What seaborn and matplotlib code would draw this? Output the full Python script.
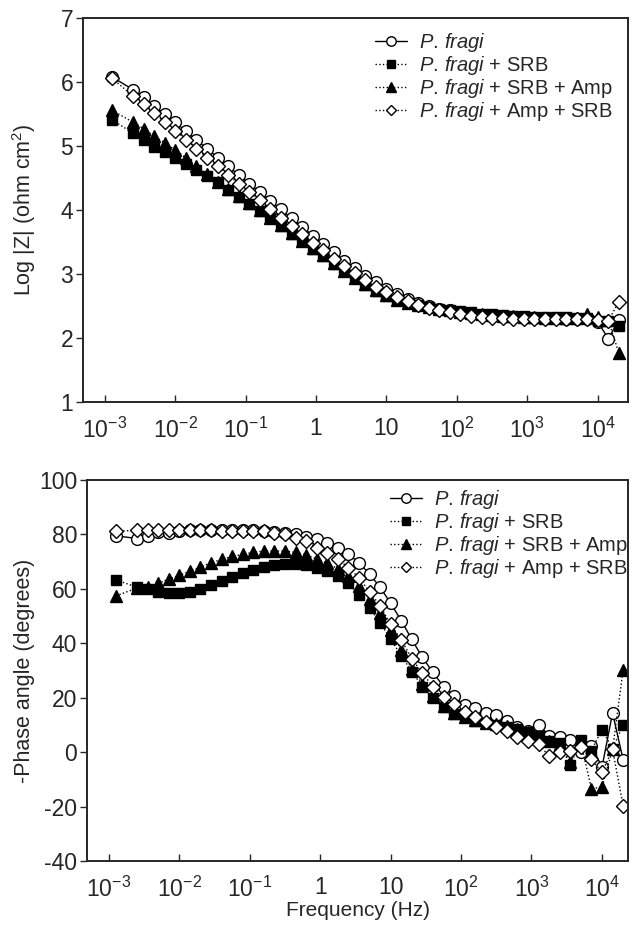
import numpy as np
import pandas as pd
import matplotlib
matplotlib.use("Agg")
import matplotlib.pyplot as plt
import seaborn as sns
from matplotlib.ticker import FixedLocator, LogLocator, NullFormatter

sns.set_style("ticks")
plt.rcParams['font.family'] = ['Liberation Sans', 'DejaVu Sans']
plt.rcParams['mathtext.fontset'] = 'custom'
plt.rcParams['mathtext.rm'] = 'Liberation Sans'
plt.rcParams['mathtext.it'] = 'Liberation Sans:italic'
plt.rcParams['axes.unicode_minus'] = False

# frequencies (Hz), low to high
freq = [0.00126, 0.00252, 0.00356, 0.00502, 0.0071, 0.0100, 0.0142, 0.0200,
        0.0283, 0.0399, 0.0564, 0.0796, 0.112, 0.159, 0.224, 0.317,
        0.448, 0.632, 0.893, 1.26, 1.78, 2.52, 3.56, 5.02,
        7.10, 10.0, 14.2, 20.0, 28.3, 39.9, 56.4, 79.6,
        112, 159, 224, 317, 448, 632, 893, 1260,
        1780, 2520, 3560, 5020, 7090, 10020, 14160, 20000]

# log |Z| (ohm cm2)
logz_pf = [6.08, 5.88, 5.77, 5.62, 5.50, 5.37, 5.23, 5.09,
           4.96, 4.82, 4.68, 4.55, 4.41, 4.28, 4.14, 4.01,
           3.87, 3.74, 3.60, 3.47, 3.34, 3.21, 3.09, 2.97,
           2.87, 2.77, 2.69, 2.61, 2.55, 2.50, 2.46, 2.43,
           2.40, 2.38, 2.36, 2.35, 2.34, 2.33, 2.32, 2.32,
           2.31, 2.31, 2.30, 2.30, 2.30, 2.25, 1.99, 2.28]
logz_srb = [5.41, 5.20, 5.09, 4.99, 4.91, 4.81, 4.72, 4.62,
            4.53, 4.43, 4.31, 4.21, 4.10, 3.99, 3.87, 3.75,
            3.63, 3.51, 3.39, 3.28, 3.16, 3.04, 2.93, 2.83,
            2.74, 2.66, 2.60, 2.55, 2.51, 2.48, 2.46, 2.44,
            2.42, 2.40, 2.38, 2.37, 2.36, 2.35, 2.34, 2.33,
            2.33, 2.33, 2.33, 2.32, 2.31, 2.26, 2.27, 2.19]
logz_srb_amp = [5.56, 5.37, 5.27, 5.15, 5.05, 4.94, 4.81, 4.68,
                4.56, 4.44, 4.33, 4.22, 4.11, 4.00, 3.88, 3.76,
                3.64, 3.52, 3.40, 3.29, 3.17, 3.05, 2.94, 2.84,
                2.75, 2.67, 2.60, 2.55, 2.51, 2.48, 2.45, 2.43,
                2.41, 2.39, 2.37, 2.36, 2.35, 2.34, 2.33, 2.33,
                2.32, 2.32, 2.32, 2.32, 2.38, 2.33, 2.28, 1.76]
logz_amp_srb = [6.06, 5.78, 5.66, 5.51, 5.37, 5.24, 5.10, 4.96,
                4.82, 4.69, 4.55, 4.41, 4.28, 4.15, 4.01, 3.88,
                3.75, 3.62, 3.49, 3.37, 3.24, 3.12, 3.01, 2.90,
                2.80, 2.72, 2.64, 2.58, 2.52, 2.47, 2.43, 2.40,
                2.37, 2.35, 2.33, 2.32, 2.31, 2.30, 2.30, 2.29,
                2.29, 2.29, 2.29, 2.29, 2.29, 2.28, 2.27, 2.57]

# -phase angle (degrees)
phase_pf = [79.5, 78.5, 79.3, 81.0, 80.6, 81.2, 81.5, 81.5,
            81.5, 81.5, 81.5, 81.5, 81.5, 81.2, 80.9, 80.5,
            80.1, 79.2, 78.2, 76.7, 75.0, 72.7, 69.6, 65.4,
            60.6, 54.7, 48.3, 41.4, 34.8, 29.3, 24.1, 20.5,
            17.3, 16.1, 14.3, 13.7, 11.5, 9.4, 7.9, 10.1,
            6.1, 5.7, 4.6, 0.0, 2.4, -5.5, 14.4, -2.8]
phase_srb = [63.3, 60.6, 60.0, 58.9, 58.6, 58.6, 58.9, 59.8,
             61.3, 62.8, 64.4, 66.0, 67.0, 68.2, 68.9, 69.2,
             69.1, 68.9, 67.8, 66.6, 64.7, 62.1, 57.8, 53.1,
             47.6, 41.5, 35.4, 29.6, 24.1, 19.8, 16.5, 14.0,
             12.8, 11.6, 10.6, 10.1, 9.4, 8.6, 7.3, 5.9,
             4.2, 3.2, -4.9, 4.5, 0.6, 8.3, 1.3, 10.0]
phase_srb_amp = [57.4, 60.3, 60.5, 62.0, 63.6, 65.0, 66.5, 68.0,
                 69.6, 70.8, 71.9, 72.7, 73.4, 73.9, 73.9, 73.9,
                 73.4, 72.5, 71.0, 69.4, 67.4, 64.7, 61.1, 56.4,
                 51.3, 45.0, 37.5, 30.5, 25.0, 20.5, 17.0, 14.5,
                 13.0, 11.8, 10.8, 10.2, 9.5, 8.6, 7.3, 5.8,
                 4.2, 3.0, -3.7, 3.5, -13.4, -12.8, 1.0, 30.3]
phase_amp_srb = [81.2, 81.5, 81.8, 81.6, 81.5, 81.5, 81.5, 81.5,
                 81.5, 81.4, 81.3, 81.3, 81.2, 81.2, 80.6, 80.0,
                 78.8, 77.6, 75.1, 73.3, 70.9, 67.8, 64.1, 58.9,
                 53.8, 47.0, 41.2, 34.4, 29.0, 24.1, 20.4, 17.7,
                 14.7, 12.8, 11.0, 9.2, 7.9, 5.5, 4.0, 3.0,
                 -1.5, 0.0, 0.5, 2.0, -2.6, -7.4, 1.0, -19.8]

labels = [r'$\mathit{P.\,fragi}$',
          r'$\mathit{P.\,fragi}$ + SRB',
          r'$\mathit{P.\,fragi}$ + SRB + Amp',
          r'$\mathit{P.\,fragi}$ + Amp + SRB']
logz_all = [logz_pf, logz_srb, logz_srb_amp, logz_amp_srb]
phase_all = [phase_pf, phase_srb, phase_srb_amp, phase_amp_srb]

markers = ['o', 's', '^', 'D']
faces = ['white', 'black', 'black', 'white']
sizes = [8.5, 7.3, 8.5, 7.0]
styles = ['-', ':', ':', ':']

fig = plt.figure(figsize=(6.32, 9.26), dpi=100)
ax1 = fig.add_axes([83/632, 1-402/926, 545/632, 384/926])
ax2 = fig.add_axes([87/632, 1-861/926, 541/632, 381/926])

for ax, data in [(ax1, logz_all), (ax2, phase_all)]:
    for i in range(4):
        sns.lineplot(x=freq, y=data[i], ax=ax, color='black',
                     marker=markers[i], markersize=sizes[i],
                     markerfacecolor=faces[i], markeredgecolor='black',
                     markeredgewidth=1.0, linestyle=styles[i],
                     linewidth=1.0, label=labels[i], errorbar=None)

dec_ticks = [1e-3, 1e-2, 1e-1, 1, 10, 1e2, 1e3, 1e4]
dec_labels = ['10$^{-3}$', '10$^{-2}$', '10$^{-1}$', '1', '10',
              '10$^{2}$', '10$^{3}$', '10$^{4}$']

for ax in [ax1, ax2]:
    ax.set_xscale('log')
    ax.xaxis.set_major_locator(FixedLocator(dec_ticks))
    ax.set_xticklabels(dec_labels)
    ax.xaxis.set_minor_locator(LogLocator(base=10, subs=np.arange(2, 10)))
    ax.xaxis.set_minor_formatter(NullFormatter())
    ax.tick_params(axis='x', which='major', direction='in', length=5,
                   width=1.0, labelsize=16.5, pad=11)
    ax.tick_params(axis='x', which='minor', direction='in', length=3,
                   width=0.8)
    ax.tick_params(axis='y', direction='out', length=5, width=1.0,
                   labelsize=16.5, pad=2)
    for sp in ax.spines.values():
        sp.set_linewidth(1.4)
    ax.legend(loc='upper left', frameon=False, fontsize=14.5,
              handlelength=1.6, handletextpad=0.6, labelspacing=0.0,
              markerscale=0.8, borderpad=0, borderaxespad=0)

ax1.set_xlim(10**-3.31, 10**4.43)
ax1.set_ylim(1, 7)
ax1.set_yticks([1, 2, 3, 4, 5, 6, 7])
ax1.set_ylabel('Log |Z| (ohm cm$^2$)', fontsize=15.5, labelpad=16)
ax1.legend_.set_bbox_to_anchor((0.535, 0.965))

ax2.set_xlim(10**-3.31, 10**4.37)
ax2.set_ylim(-40, 100)
ax2.set_yticks([-40, -20, 0, 20, 40, 60, 80, 100])
ax2.set_yticklabels(['-40', '-20', '0', '20', '40', '60', '80', '100'])
ax2.set_ylabel('-Phase angle (degrees)', fontsize=15.5, labelpad=3)
ax2.set_xlabel('Frequency (Hz)', fontsize=15, labelpad=0)
ax2.legend_.set_bbox_to_anchor((0.56, 0.98))

fig.savefig('out.png', dpi=100)
